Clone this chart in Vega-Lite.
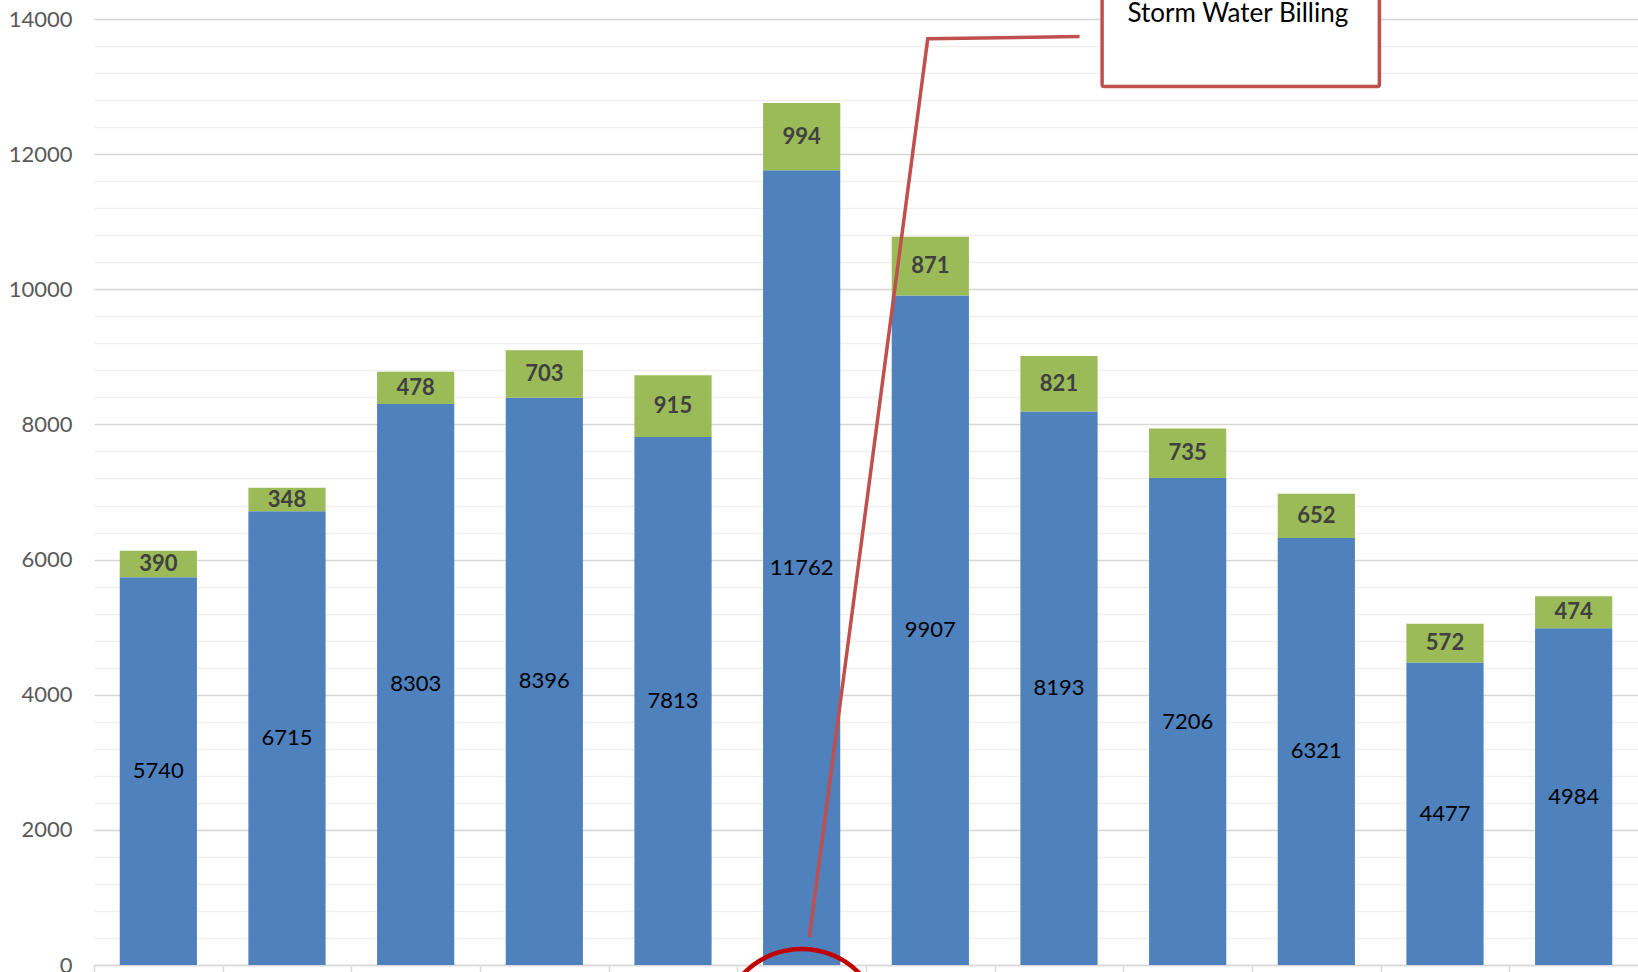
{
  "$schema": "https://vega.github.io/schema/vega-lite/v6.json",
  "width": 1544,
  "height": 946,
  "autosize": {"type": "none"},
  "padding": {"left": 94, "top": 19, "right": 0, "bottom": 7},
  "background": "white",
  "config": {"view": {"stroke": null}, "font": "Lato"},
  "datasets": {
    "main": [
      {"month": "Jul", "type": "Other", "k": 1, "value": 5740},
      {"month": "Jul", "type": "Storm Water", "k": 2, "value": 390},
      {"month": "Aug", "type": "Other", "k": 1, "value": 6715},
      {"month": "Aug", "type": "Storm Water", "k": 2, "value": 348},
      {"month": "Sep", "type": "Other", "k": 1, "value": 8303},
      {"month": "Sep", "type": "Storm Water", "k": 2, "value": 478},
      {"month": "Oct", "type": "Other", "k": 1, "value": 8396},
      {"month": "Oct", "type": "Storm Water", "k": 2, "value": 703},
      {"month": "Nov", "type": "Other", "k": 1, "value": 7813},
      {"month": "Nov", "type": "Storm Water", "k": 2, "value": 915},
      {"month": "Dec", "type": "Other", "k": 1, "value": 11762},
      {"month": "Dec", "type": "Storm Water", "k": 2, "value": 994},
      {"month": "Jan", "type": "Other", "k": 1, "value": 9907},
      {"month": "Jan", "type": "Storm Water", "k": 2, "value": 871},
      {"month": "Feb", "type": "Other", "k": 1, "value": 8193},
      {"month": "Feb", "type": "Storm Water", "k": 2, "value": 821},
      {"month": "Mar", "type": "Other", "k": 1, "value": 7206},
      {"month": "Mar", "type": "Storm Water", "k": 2, "value": 735},
      {"month": "Apr", "type": "Other", "k": 1, "value": 6321},
      {"month": "Apr", "type": "Storm Water", "k": 2, "value": 652},
      {"month": "May", "type": "Other", "k": 1, "value": 4477},
      {"month": "May", "type": "Storm Water", "k": 2, "value": 572},
      {"month": "Jun", "type": "Other", "k": 1, "value": 4984},
      {"month": "Jun", "type": "Storm Water", "k": 2, "value": 474}
    ],
    "callout": [
      {"b": 5.56, "v": 414, "o": 1},
      {"b": 6.48, "v": 13709, "o": 2},
      {"b": 7.66, "v": 13740, "o": 3}
    ],
    "box": [
      {"b0": 7.835, "b1": 9.99, "v0": 13000, "v1": 15000, "bc": 8.89, "vc": 14080, "label": "Storm Water Billing"}
    ],
    "ring": [{"b": 5.5, "v": -962}]
  },
  "layer": [
    {
      "data": {"name": "main"},
      "transform": [
        {"stack": "value", "groupby": ["month"], "sort": [{"field": "k"}], "as": ["v0", "v1"]}
      ],
      "mark": {"type": "bar"},
      "encoding": {
        "x": {
          "field": "month", "type": "nominal", "sort": null,
          "scale": {"paddingInner": 0.4, "paddingOuter": 0.2},
          "axis": {
            "title": null, "labels": false, "bandPosition": 0, "tickOffset": -25.7,
            "tickSize": 7, "tickColor": "#D9D9D9", "tickWidth": 1.5,
            "domainColor": "#D9D9D9", "domainWidth": 1.5, "grid": false
          }
        },
        "y": {
          "field": "v0", "type": "quantitative",
          "scale": {"domain": [0, 14000], "nice": false, "zero": true},
          "axis": {
            "title": null,
            "values": [0,400,800,1200,1600,2000,2400,2800,3200,3600,4000,4400,4800,5200,5600,6000,6400,6800,7200,7600,8000,8400,8800,9200,9600,10000,10400,10800,11200,11600,12000,12400,12800,13200,13600,14000],
            "tickCount": 100,
            "format": "d",
            "labelExpr": "datum.value % 2000 === 0 ? datum.label : ''",
            "labelOverlap": false, "labelFlush": false,
            "labelFont": "Lato", "labelFontSize": 22, "labelColor": "#595959",
            "labelPadding": 22, "ticks": false, "domain": false,
            "grid": true,
            "gridColor": {"condition": {"test": "datum.value % 2000 === 0", "value": "#D6D6D6"}, "value": "#EFEFEF"},
            "gridWidth": {"condition": {"test": "datum.value % 2000 === 0", "value": 1.7}, "value": 1.3}
          }
        },
        "y2": {"field": "v1"},
        "color": {
          "field": "type", "type": "nominal",
          "scale": {"domain": ["Other", "Storm Water"], "range": ["#4F81BD", "#9BBB59"]},
          "legend": null
        }
      }
    },
    {
      "data": {"name": "main"},
      "transform": [
        {"stack": "value", "groupby": ["month"], "sort": [{"field": "k"}], "as": ["v0", "v1"]},
        {"calculate": "(datum.v0 + datum.v1) / 2", "as": "mid"},
        {"filter": "datum.k === 1"}
      ],
      "mark": {"type": "text", "font": "Lato", "fontSize": 22, "color": "#000000", "baseline": "middle", "align": "center"},
      "encoding": {
        "x": {"field": "month", "type": "nominal", "sort": null, "scale": {"paddingInner": 0.4, "paddingOuter": 0.2}, "axis": null},
        "y": {"field": "mid", "type": "quantitative", "scale": {"domain": [0, 14000], "nice": false}},
        "text": {"field": "value", "type": "quantitative", "format": "d"}
      }
    },
    {
      "data": {"name": "main"},
      "transform": [
        {"stack": "value", "groupby": ["month"], "sort": [{"field": "k"}], "as": ["v0", "v1"]},
        {"calculate": "(datum.v0 + datum.v1) / 2", "as": "mid"},
        {"filter": "datum.k === 2"}
      ],
      "mark": {"type": "text", "font": "Lato", "fontSize": 22, "fontWeight": "bold", "color": "#404040", "baseline": "middle", "align": "center"},
      "encoding": {
        "x": {"field": "month", "type": "nominal", "sort": null, "scale": {"paddingInner": 0.4, "paddingOuter": 0.2}, "axis": null},
        "y": {"field": "mid", "type": "quantitative", "scale": {"domain": [0, 14000], "nice": false}},
        "text": {"field": "value", "type": "quantitative", "format": "d"}
      }
    },
    {
      "data": {"name": "box"},
      "mark": {"type": "rect", "fill": "white", "stroke": "#C0504D", "strokeWidth": 3.5, "cornerRadius": 2},
      "encoding": {
        "x": {"field": "b0", "type": "quantitative", "scale": {"domain": [0, 12], "nice": false, "zero": true}, "axis": null},
        "x2": {"field": "b1"},
        "y": {"field": "v0", "type": "quantitative", "scale": {"domain": [0, 14000], "nice": false}},
        "y2": {"field": "v1"}
      }
    },
    {
      "data": {"name": "box"},
      "mark": {"type": "text", "font": "Lato", "fontSize": 26, "color": "#000000", "baseline": "middle", "align": "center"},
      "encoding": {
        "x": {"field": "bc", "type": "quantitative", "scale": {"domain": [0, 12], "nice": false, "zero": true}, "axis": null},
        "y": {"field": "vc", "type": "quantitative", "scale": {"domain": [0, 14000], "nice": false}},
        "text": {"field": "label", "type": "nominal"}
      }
    },
    {
      "data": {"name": "callout"},
      "mark": {"type": "line", "color": "#C0504D", "strokeWidth": 3.5},
      "encoding": {
        "x": {"field": "b", "type": "quantitative", "scale": {"domain": [0, 12], "nice": false, "zero": true}, "axis": null},
        "y": {"field": "v", "type": "quantitative", "scale": {"domain": [0, 14000], "nice": false}},
        "order": {"field": "o", "type": "quantitative"}
      }
    },
    {
      "data": {"name": "ring"},
      "mark": {"type": "point", "shape": "circle", "filled": false, "size": 26244, "stroke": "#C00000", "strokeWidth": 4.5, "opacity": 1},
      "encoding": {
        "x": {"field": "b", "type": "quantitative", "scale": {"domain": [0, 12], "nice": false, "zero": true}, "axis": null},
        "y": {"field": "v", "type": "quantitative", "scale": {"domain": [0, 14000], "nice": false}}
      }
    }
  ],
  "resolve": {"scale": {"x": "independent"}, "axis": {"x": "independent"}}
}
